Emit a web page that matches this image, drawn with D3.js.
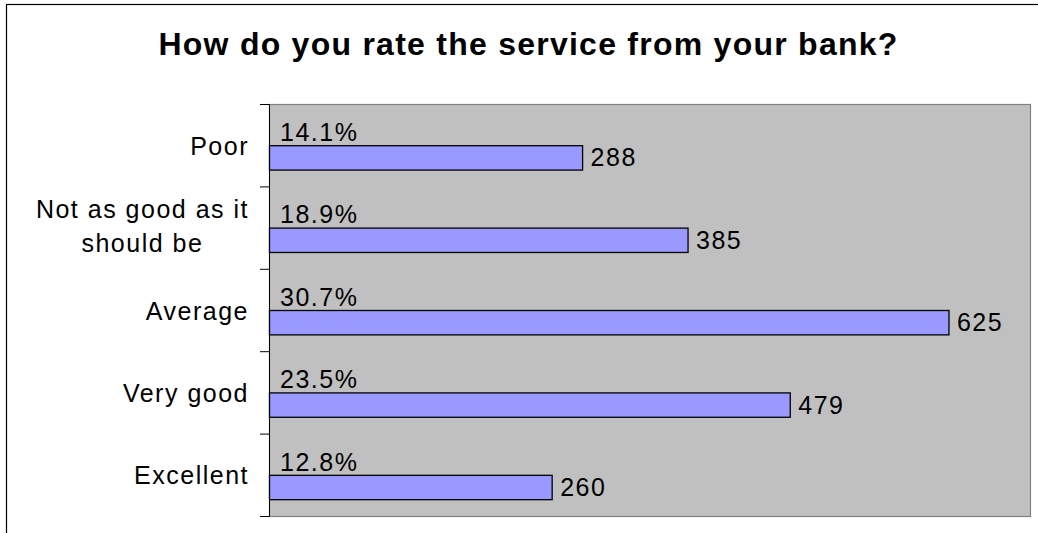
<!DOCTYPE html>
<html>
<head>
<meta charset="utf-8">
<script src="https://cdn.jsdelivr.net/npm/d3@7"></script>
<style>
  html, body { margin: 0; padding: 0; background: #fff; }
  svg { display: block; }
  text { font-family: "Liberation Sans", Arial, sans-serif; fill: #000; }
</style>
</head>
<body>
<svg id="chart" width="1038" height="533"></svg>
<script>
// Survey answers, top to bottom
const categories = ["Poor", "Not as good as it\nshould be", "Average", "Very good", "Excellent"];
const counts = [288, 385, 625, 479, 260];
const shares = [14.1, 18.9, 30.7, 23.5, 12.8];
const xMax = 700;
const title = "How do you rate the service from your bank?";

const svg = d3.select("#chart");
const W = 1038, H = 533;
const plot = { left: 269.5, right: 1030.5, top: 104.5, bottom: 516.5 };
const bodyFont = "25px", bodySpacing = "1.5px";

// Chart frame
svg.append("rect")
  .attr("x", 6.5).attr("y", 4.5)
  .attr("width", W + 20).attr("height", H + 20)
  .attr("fill", "#fff").attr("stroke", "#000").attr("stroke-width", 1.2);

// Title
svg.append("text")
  .attr("x", 528.5).attr("y", 55)
  .attr("text-anchor", "middle")
  .style("font-size", "32px").style("font-weight", "bold")
  .style("letter-spacing", "1.25px")
  .text(title);

const x = d3.scaleLinear().domain([0, xMax]).range([plot.left, plot.right]);
const y = d3.scaleBand().domain(categories).range([plot.top, plot.bottom]).padding(0);
// Two slots per category: the share label sits on the first, the count bar on the second
const slot = d3.scaleBand().domain(["share", "count"]).range([0, y.bandwidth()])
  .paddingInner(0).paddingOuter(0.69);

// Plot area
svg.append("rect")
  .attr("x", plot.left).attr("y", plot.top)
  .attr("width", plot.right - plot.left).attr("height", plot.bottom - plot.top)
  .attr("fill", "#C0C0C0").attr("stroke", "#808080").attr("stroke-width", 1.2);

// Category axis line and ticks between categories
svg.append("line")
  .attr("x1", plot.left).attr("x2", plot.left)
  .attr("y1", plot.top).attr("y2", plot.bottom)
  .attr("stroke", "#000").attr("stroke-width", 1);
const tickPos = categories.map(c => y(c)).concat([y.range()[1]]);
svg.selectAll("line.tick").data(tickPos).join("line")
  .attr("class", "tick")
  .attr("x1", plot.left - 9.5).attr("x2", plot.left)
  .attr("y1", d => d).attr("y2", d => d)
  .attr("stroke", "#000").attr("stroke-width", 1);

const rows = categories.map((c, i) => ({ cat: c, count: counts[i], share: shares[i] }));

// Bars
svg.selectAll("rect.bar").data(rows).join("rect")
  .attr("class", "bar")
  .attr("x", x(0))
  .attr("y", d => y(d.cat) + slot("count"))
  .attr("width", d => x(d.count) - x(0))
  .attr("height", slot.bandwidth())
  .attr("fill", "#9999FF").attr("stroke", "#000").attr("stroke-width", 1.3);

// Count labels at the bar ends
svg.selectAll("text.count").data(rows).join("text")
  .attr("class", "count")
  .attr("x", d => x(d.count) + 8)
  .attr("y", d => y(d.cat) + slot("count") + slot.bandwidth() / 2 + 8.5)
  .style("font-size", bodyFont).style("letter-spacing", bodySpacing)
  .text(d => d.count);

// Share labels above each bar
svg.selectAll("text.share").data(rows).join("text")
  .attr("class", "share")
  .attr("x", x(0) + 10.5)
  .attr("y", d => y(d.cat) + slot("share") + slot.bandwidth() / 2 + 7.5)
  .style("font-size", bodyFont).style("letter-spacing", bodySpacing)
  .text(d => d.share.toFixed(1) + "%");

// Category labels: block right-aligned to the axis, lines centred within the block
const labelRight = 249;
const lineGap = 33.4;
rows.forEach(d => {
  const lines = d.cat.split("\n");
  const g = svg.append("g");
  const texts = lines.map(l => g.append("text")
    .style("font-size", bodyFont).style("letter-spacing", bodySpacing)
    .attr("text-anchor", "middle").text(l));
  const widths = texts.map(t => t.node().getComputedTextLength());
  const blockW = d3.max(widths);
  const cx = labelRight - blockW / 2;
  const mid = y(d.cat) + y.bandwidth() / 2;
  const first = mid - (lines.length - 1) * lineGap / 2 + 9 - (lines.length > 1 ? 2 : 0);
  texts.forEach((t, i) => t.attr("x", cx).attr("y", first + i * lineGap));
});
</script>
</body>
</html>
